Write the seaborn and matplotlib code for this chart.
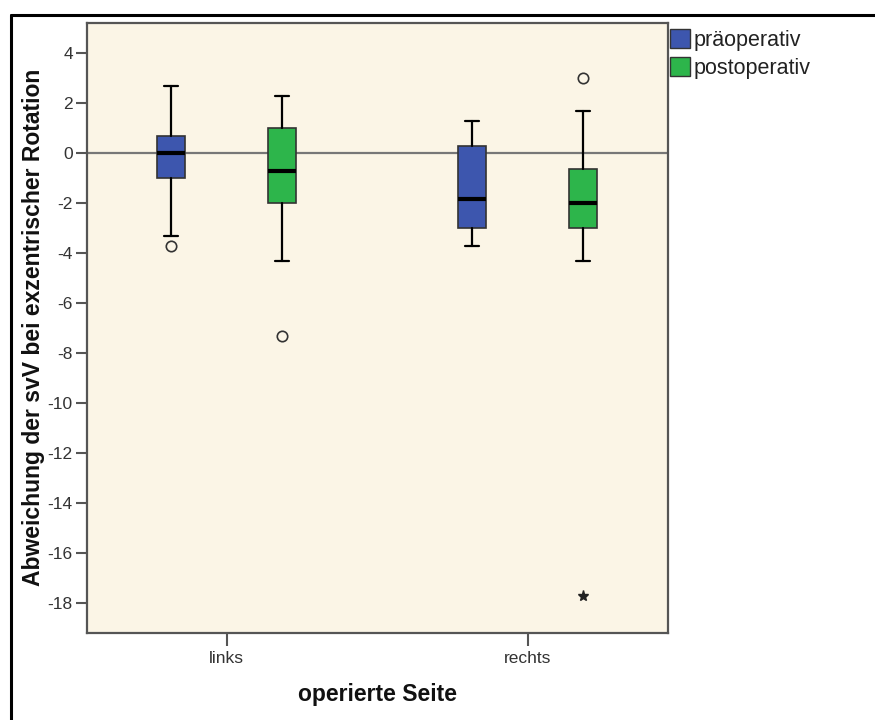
import matplotlib
matplotlib.use("Agg")
import matplotlib.pyplot as plt
from matplotlib.patches import Patch
from matplotlib.lines import Line2D
import seaborn as sns

# Categories and groups
sides = ["links", "rechts"]
groups = ["präoperativ", "postoperativ"]

# Box statistics per group (one entry per side)
pre_whislo = [-3.3, -3.7]
pre_q1 = [-1.0, -3.0]
pre_med = [0.0, -1.85]
pre_q3 = [0.7, 0.3]
pre_whishi = [2.7, 1.3]
pre_outliers = [[-3.7], []]
pre_extremes = [[], []]

post_whislo = [-4.3, -4.3]
post_q1 = [-2.0, -3.0]
post_med = [-0.7, -2.0]
post_q3 = [1.0, -0.65]
post_whishi = [2.3, 1.7]
post_outliers = [[-7.3], [3.0]]
post_extremes = [[], [-17.7]]

y_ticks = [4, 2, 0, -2, -4, -6, -8, -10, -12, -14, -16, -18]

sns.set_style("white")
plt.rcParams["font.family"] = ["Liberation Sans", "DejaVu Sans"]

colors = ["#3D56AE", "#2DB54B"]
face = "#FBF5E6"
spine_col = "#555555"

fig = plt.figure(figsize=(8.75, 7.2), dpi=100)
ax = fig.add_axes([86.7 / 875, 1 - 633.3 / 720, 581.6 / 875, 610.6 / 720])
ax.set_facecolor(face)

offset = 0.185
box_w = 0.093

series = [
    (pre_whislo, pre_q1, pre_med, pre_q3, pre_whishi, pre_outliers, pre_extremes),
    (post_whislo, post_q1, post_med, post_q3, post_whishi, post_outliers, post_extremes),
]

ax.axhline(0, color="#777777", lw=1.6, zorder=1)

for gi, (lo, q1, med, q3, hi, outl, extr) in enumerate(series):
    stats = []
    positions = []
    for si in range(len(sides)):
        stats.append(dict(whislo=lo[si], q1=q1[si], med=med[si], q3=q3[si],
                          whishi=hi[si], fliers=[]))
        positions.append(si + (-offset if gi == 0 else offset))
    ax.bxp(stats, positions=positions, widths=box_w, patch_artist=True,
           showfliers=False, manage_ticks=False,
           boxprops=dict(facecolor=colors[gi], edgecolor="#333333", linewidth=1.2),
           medianprops=dict(color="black", linewidth=3),
           whiskerprops=dict(color="black", linewidth=1.6),
           capprops=dict(color="black", linewidth=1.6),
           capwidths=box_w * 0.5, zorder=3)
    for si, pos in enumerate(positions):
        if outl[si]:
            ax.plot([pos] * len(outl[si]), outl[si], linestyle="none", marker="o",
                    markersize=7.5, markerfacecolor="none", markeredgecolor="#333333",
                    markeredgewidth=1.2, zorder=4)
        if extr[si]:
            ax.plot([pos] * len(extr[si]), extr[si], linestyle="none", marker="*",
                    markersize=8, color="#222222", zorder=4)

ax.set_xlim(-0.465, 1.467)
ax.set_ylim(-19.2, 5.22)
ax.set_xticks(range(len(sides)))
ax.set_xticklabels(sides)
ax.set_yticks(y_ticks)
ax.set_yticklabels([str(t) for t in y_ticks])

for s in ax.spines.values():
    s.set_color(spine_col)
    s.set_linewidth(1.6)

ax.tick_params(axis="y", direction="out", length=8, width=1.5, color=spine_col,
               labelsize=12.5, labelcolor="#333333", pad=2, left=True)
ax.tick_params(axis="x", direction="out", length=9, width=1.5, color=spine_col,
               labelsize=12.5, labelcolor="#333333", pad=4, bottom=True)

ax.set_ylabel("Abweichung der svV bei exzentrischer Rotation", fontsize=16.5,
              fontweight="bold", color="#111111", va="center")
ax.yaxis.set_label_coords(34 / 875, 1 - 327 / 720, transform=fig.transFigure)
ax.set_xlabel("operierte Seite", fontsize=16.5, fontweight="bold", color="#111111",
              va="center")
ax.xaxis.set_label_coords(378 / 875, 1 - 694 / 720, transform=fig.transFigure)

handles = [Patch(facecolor=colors[i], edgecolor="#333333", linewidth=1.0, label=groups[i])
           for i in range(len(groups))]
fig.legend(handles=handles, loc="upper left",
           bbox_to_anchor=(670 / 875, 1 - 29 / 720), bbox_transform=fig.transFigure,
           frameon=False, fontsize=15.5, handlelength=0.95, handleheight=0.95,
           handletextpad=0.15, labelspacing=0.3, borderpad=0, borderaxespad=0,
           labelcolor="#222222")

# Outer frame (top and left edges)
fig.add_artist(Line2D([11 / 875, 1.0], [1 - 15 / 720, 1 - 15 / 720],
                      transform=fig.transFigure, color="black", lw=2.2))
fig.add_artist(Line2D([11 / 875, 11 / 875], [1 - 15 / 720, 0.0],
                      transform=fig.transFigure, color="black", lw=2.2))

fig.savefig("out.png", dpi=100, facecolor="white")
